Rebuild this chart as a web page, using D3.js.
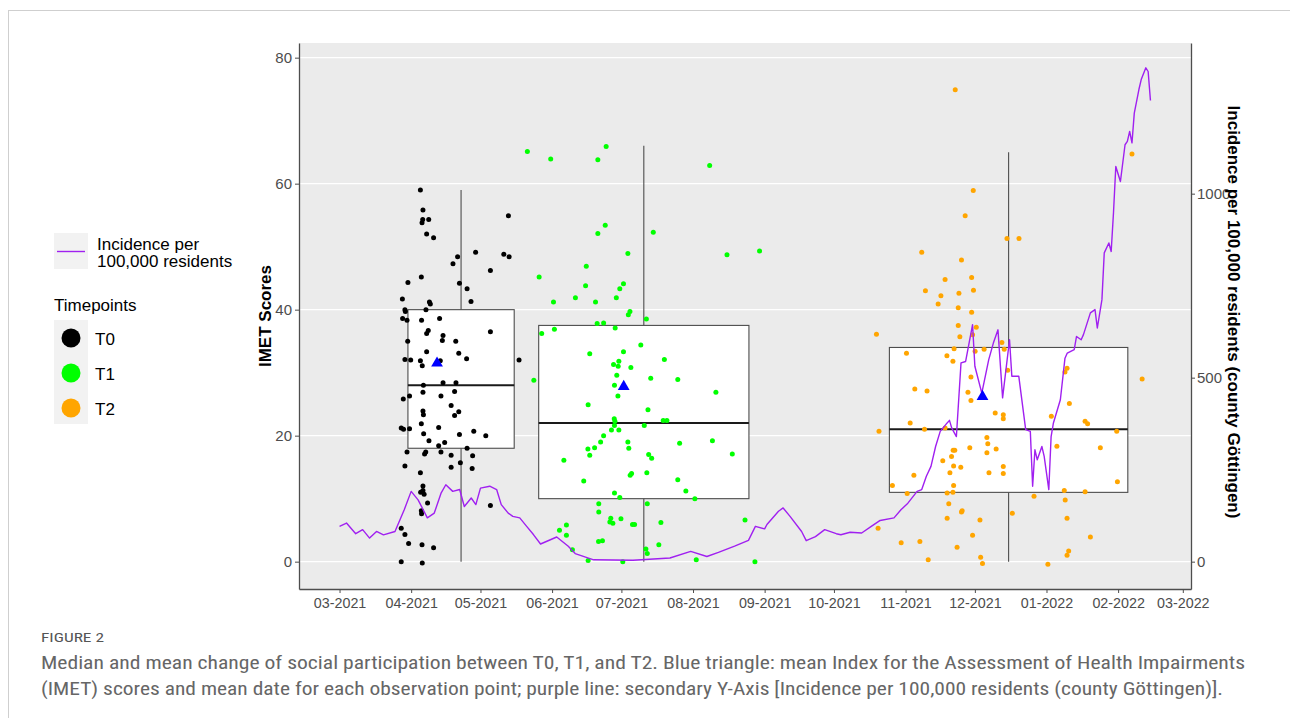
<!DOCTYPE html>
<html>
<head>
<meta charset="utf-8">
<script src="https://cdn.jsdelivr.net/npm/d3@7"></script>
<style>
  body { margin: 0; background: #fff; }
  svg { display: block; }
  .axis text { font-family: "Liberation Sans", Arial, sans-serif; fill: #4d4d4d; }
  .axis .domain, .axis line { stroke: #4d4d4d; }
</style>
</head>
<body>
<div id="chart"></div>
<script>
// day offsets below are counted from this date
const originDate = "2021-03-01";

const timepoints = ["T0", "T1", "T2"];
const timepointColors = ["#000000", "#00ff00", "#ffa500"];

// T0 observations
const t0Days = [35.0, 36.1, 36.0, 38.6, 35.7, 37.7, 40.7, 73.1, 58.9, 51.1, 49.1, 71.1, 73.4, 65.3, 35.4, 29.6, 51.9, 55.2, 56.9, 27.2,
  38.9, 39.3, 37.4, 28.3, 28.5, 27.3, 29.2, 35.5, 43.3, 65.3, 38.4, 37.7, 44.8, 44.5, 50.3, 29.5, 37.7, 51.6, 55.0, 28.3,
  30.8, 35.0, 35.8, 43.6, 77.7, 44.8, 50.4, 36.3, 49.8, 36.1, 30.3, 43.9, 27.6, 48.3, 51.6, 36.1, 36.3, 49.8, 35.4, 42.9,
  26.7, 27.7, 30.3, 58.1, 36.4, 51.9, 63.3, 38.7, 45.5, 42.9, 55.2, 29.2, 37.3, 36.8, 43.9, 48.3, 57.6, 52.3, 28.3, 48.3,
  57.4, 35.0, 36.1, 36.1, 35.1, 36.6, 38.1, 65.3, 35.4, 35.5, 26.7, 28.3, 29.9, 35.7, 40.7, 26.7, 35.8];
const t0Scores = [59.0, 55.8, 54.3, 54.3, 53.8, 52.0, 51.4, 54.9, 49.1, 48.4, 47.3, 48.8, 48.4, 46.2, 45.2, 44.3, 44.2, 43.3, 41.3, 41.7,
  41.2, 40.9, 40.0, 40.0, 39.7, 38.6, 38.3, 38.3, 38.6, 36.5, 36.7, 36.2, 35.9, 35.1, 35.0, 35.0, 33.3, 33.1, 32.2, 32.1,
  32.0, 31.9, 31.1, 31.9, 32.0, 28.4, 28.4, 28.0, 27.0, 26.9, 26.3, 26.3, 25.8, 24.8, 23.8, 23.9, 23.3, 23.2, 21.9, 21.3,
  21.2, 21.0, 21.1, 20.7, 20.3, 20.2, 20.0, 19.2, 18.9, 18.4, 18.0, 17.4, 17.4, 17.1, 17.4, 16.9, 16.8, 15.7, 15.2, 15.0,
  14.8, 14.1, 12.0, 11.3, 11.0, 10.7, 9.3, 8.9, 8.1, 7.6, 5.3, 4.3, 2.9, 2.7, 2.2, 0.0, -0.2];

// T1 observations
const t1Days = [81.3, 91.4, 111.8, 115.4, 160.2, 115.0, 111.8, 135.8, 124.8, 167.7, 181.8, 106.8, 86.4, 106.5, 122.9, 121.3, 102.1, 119.8, 92.6, 110.8,
  125.7, 125.0, 132.8, 111.5, 114.3, 119.3, 93.0, 87.5, 130.4, 108.3, 122.9, 140.6, 118.6, 120.9, 120.6, 126.1, 84.1, 120.0, 134.7, 146.4,
  119.0, 162.9, 120.5, 107.6, 133.5, 118.9, 119.2, 140.1, 141.7, 119.0, 131.9, 117.7, 120.9, 114.3, 113.0, 110.4, 107.5, 124.8, 125.2, 147.2,
  161.4, 108.3, 133.8, 135.1, 170.0, 97.1, 126.4, 125.8, 133.0, 105.7, 146.4, 149.9, 119.0, 121.3, 153.8, 112.2, 133.2, 112.2, 175.5, 117.4,
  117.0, 118.3, 121.8, 126.8, 127.7, 139.1, 98.2, 95.2, 98.2, 112.1, 113.8, 138.2, 100.8, 132.6, 133.2, 107.6, 122.6, 154.4, 179.8];
const t1Scores = [65.1, 63.9, 63.8, 65.9, 62.9, 53.4, 52.1, 52.3, 48.9, 48.7, 49.3, 46.9, 45.2, 43.8, 44.1, 43.3, 41.9, 41.9, 41.2, 41.2,
  39.7, 39.2, 38.5, 37.8, 37.9, 37.1, 36.9, 36.2, 34.4, 33.0, 33.3, 32.1, 31.3, 31.8, 31.0, 30.8, 28.8, 29.6, 29.1, 28.9,
  28.0, 26.9, 26.3, 24.9, 24.1, 22.7, 22.3, 22.4, 22.4, 21.6, 21.6, 20.9, 20.9, 20.0, 19.0, 18.1, 17.9, 19.0, 18.0, 18.8,
  19.2, 16.9, 17.0, 16.4, 17.1, 16.1, 14.0, 13.7, 14.1, 12.8, 13.0, 11.2, 10.9, 10.2, 10.0, 9.2, 9.2, 7.9, 6.6, 6.9,
  6.3, 6.1, 6.8, 5.9, 5.9, 6.2, 5.8, 5.0, 4.2, 3.2, 3.3, 2.7, 1.9, 2.0, 1.3, 0.2, 0.0, 0.3, 0.0];

// T2 observations
const t2Days = [266.5, 343.0, 274.3, 270.8, 288.9, 294.1, 252.0, 269.2, 262.1, 273.6, 253.6, 260.3, 268.1, 274.4, 259.1, 267.8, 273.6, 267.8, 232.4, 275.6,
  268.5, 274.0, 245.4, 266.0, 262.9, 265.5, 279.0, 287.7, 275.1, 286.7, 273.3, 289.2, 314.9, 314.0, 249.0, 254.3, 272.0, 273.3, 315.9, 347.4,
  283.8, 287.3, 287.3, 308.1, 247.0, 322.7, 323.8, 233.5, 253.2, 262.1, 336.4, 280.2, 280.6, 272.8, 280.2, 284.2, 310.5, 329.3, 265.6, 266.3,
  264.9, 261.1, 265.8, 268.9, 287.3, 287.3, 264.2, 281.1, 248.6, 239.3, 265.8, 336.7, 313.7, 322.7, 245.7, 263.0, 265.5, 300.6, 314.1, 263.7,
  269.5, 269.2, 291.2, 263.0, 277.2, 314.9, 233.1, 274.0, 325.0, 243.1, 251.2, 267.3, 315.6, 314.9, 254.8, 277.5, 278.3, 306.6];
const t2Scores = [74.9, 64.7, 58.9, 54.9, 51.3, 51.3, 49.1, 47.9, 44.8, 45.1, 43.0, 42.2, 42.6, 43.1, 40.9, 40.3, 39.6, 37.5, 36.1, 37.2,
  35.7, 36.0, 33.1, 33.8, 32.7, 31.8, 33.7, 33.7, 33.4, 34.8, 29.3, 30.4, 30.7, 30.1, 27.4, 27.1, 26.9, 25.6, 25.1, 29.0,
  23.6, 23.3, 22.7, 23.1, 22.0, 22.3, 21.9, 20.7, 21.0, 21.2, 20.7, 19.7, 18.7, 18.1, 17.3, 17.9, 18.3, 18.1, 17.7, 17.7,
  16.7, 16.0, 15.2, 15.0, 15.1, 14.0, 14.1, 14.1, 13.7, 12.1, 12.1, 12.7, 11.3, 11.1, 10.8, 10.9, 11.0, 10.4, 9.8, 9.2,
  8.1, 7.9, 7.7, 6.9, 6.6, 6.9, 5.3, 4.2, 3.9, 3.0, 3.2, 2.3, 1.7, 1.0, 0.3, 0.7, -0.3, -0.4];

// boxplot summaries per timepoint (box extent in days from origin)
const boxStartDays = [29.6, 86.2, 238.0];
const boxEndDays = [75.6, 177.2, 341.2];
const whiskerLow = [0, 0, 0];
const q1 = [18, 10, 11];
const medians = [28, 22, 21];
const q3 = [40, 37.5, 34];
const whiskerHigh = [59, 66, 65];
const meanDays = [42.2, 123.0, 278.3];
const meanScores = [31.5, 27.8, 26.2];

// 7-day incidence per 100,000 residents, county Göttingen
const incidenceDates = ["2021-03-01", "2021-03-04", "2021-03-08", "2021-03-11", "2021-03-14", "2021-03-17", "2021-03-20", "2021-03-25",
  "2021-03-29", "2021-04-01", "2021-04-04", "2021-04-08", "2021-04-11", "2021-04-14", "2021-04-16", "2021-04-19", "2021-04-22",
  "2021-04-24", "2021-04-27", "2021-04-29", "2021-05-01", "2021-05-05", "2021-05-08", "2021-05-10", "2021-05-13", "2021-05-15",
  "2021-05-18", "2021-05-21", "2021-05-24", "2021-05-27", "2021-06-03", "2021-06-08", "2021-06-11", "2021-06-19", "2021-07-06",
  "2021-07-22", "2021-07-31", "2021-08-07", "2021-08-12", "2021-08-19", "2021-08-25", "2021-08-28", "2021-09-01", "2021-09-02",
  "2021-09-07", "2021-09-09", "2021-09-12", "2021-09-17", "2021-09-19", "2021-09-23", "2021-09-27", "2021-10-02", "2021-10-04",
  "2021-10-08", "2021-10-13", "2021-10-17", "2021-10-21", "2021-10-27", "2021-10-30", "2021-11-02", "2021-11-06", "2021-11-08",
  "2021-11-10", "2021-11-12", "2021-11-14", "2021-11-16", "2021-11-19", "2021-11-20", "2021-11-21", "2021-11-23", "2021-11-25",
  "2021-11-27", "2021-11-30", "2021-12-01", "2021-12-04", "2021-12-07", "2021-12-09", "2021-12-11", "2021-12-13", "2021-12-16",
  "2021-12-17", "2021-12-20", "2021-12-23", "2021-12-25", "2021-12-26", "2021-12-27", "2021-12-28", "2021-12-30", "2021-12-31",
  "2022-01-02", "2022-01-03", "2022-01-04", "2022-01-07", "2022-01-09", "2022-01-10", "2022-01-13", "2022-01-14", "2022-01-16",
  "2022-01-17", "2022-01-20", "2022-01-22", "2022-01-23", "2022-01-25", "2022-01-26", "2022-01-28", "2022-01-29", "2022-01-30",
  "2022-01-31", "2022-02-02", "2022-02-04", "2022-02-05", "2022-02-06", "2022-02-07", "2022-02-08", "2022-02-10", "2022-02-11",
  "2022-02-13", "2022-02-14", "2022-02-15"];
const incidenceValues = [96, 105, 76, 87, 64, 82, 73, 82,
  141, 191, 168, 119, 132, 187, 209, 191, 196,
  150, 173, 155, 200, 205, 196, 155, 132, 123,
  119, 96, 73, 48, 67, 42, 22, 5, 4,
  10, 28, 14, 25, 42, 58, 96, 89, 101,
  137, 146, 123, 82, 57, 68, 87, 76, 73,
  80, 78, 95, 112, 119, 141, 159, 191, 196,
  232, 259, 313, 354, 377, 384, 363, 340, 540,
  544, 644, 531, 458, 549, 594, 630, 445, 603,
  504, 504, 359, 354, 205, 304, 277, 313, 286,
  196, 340, 377, 440, 553, 567, 576, 612, 603,
  617, 676, 685, 635, 712, 839, 866, 843, 948,
  1074, 1033, 1133, 1142, 1169, 1138, 1219, 1283, 1310,
  1342, 1332, 1253];

const xTickDates = ["2021-03-01", "2021-04-01", "2021-05-01", "2021-06-01", "2021-07-01", "2021-08-01", "2021-09-01",
  "2021-10-01", "2021-11-01", "2021-12-01", "2022-01-01", "2022-02-01", "2022-03-01"];
const yTicks = [0, 20, 40, 60, 80];
const incidenceTicks = [0, 500, 1000];

// secondary axis: incidence = score * secFactor
const secFactor = 17.12;

const W = 1290, H = 718;
const panel = { left: 299, right: 1191, top: 43, bottom: 589 };
const font = '"Liberation Sans", Arial, sans-serif';

const parseDate = d3.timeParse("%Y-%m-%d");
const origin = parseDate(originDate);
const dayToDate = d => new Date(origin.getTime() + d * 864e5);

const groups = [[t0Days, t0Scores], [t1Days, t1Scores], [t2Days, t2Scores]];
const points = [];
groups.forEach(function(g, gi) {
  g[0].forEach(function(d, i) {
    points.push({ date: dayToDate(d), score: g[1][i], tp: timepoints[gi] });
  });
});
const incidence = incidenceDates.map((d, i) => ({ date: parseDate(d), value: incidenceValues[i] }));
const boxes = timepoints.map((tp, i) => ({
  tp: tp,
  start: dayToDate(boxStartDays[i]),
  end: dayToDate(boxEndDays[i]),
  mid: dayToDate((boxStartDays[i] + boxEndDays[i]) / 2),
  lo: whiskerLow[i], q1: q1[i], med: medians[i], q3: q3[i], hi: whiskerHigh[i],
  meanDate: dayToDate(meanDays[i]), mean: meanScores[i]
}));

const color = d3.scaleOrdinal().domain(timepoints).range(timepointColors);

// scales with ggplot-like 5% expansion
const allDates = points.map(d => d.date).concat(incidence.map(d => d.date));
const dExt = d3.extent(allDates);
const dPad = (dExt[1] - dExt[0]) * 0.05;
const x = d3.scaleTime()
  .domain([new Date(+dExt[0] - dPad), new Date(+dExt[1] + dPad)])
  .range([panel.left, panel.right]);

const yLo = d3.min(points, d => d.score);
const yHi = d3.max(points.map(d => d.score).concat(incidenceValues.map(v => v / secFactor)));
const yPad = (yHi - yLo) * 0.05;
const y = d3.scaleLinear().domain([yLo - yPad, yHi + yPad]).range([panel.bottom, panel.top]);
const yRight = d3.scaleLinear().domain(y.domain().map(v => v * secFactor)).range([panel.bottom, panel.top]);

const svg = d3.select("#chart")
  .append("svg")
    .attr("width", W)
    .attr("height", H);

svg.append("rect").attr("width", W).attr("height", H).attr("fill", "#fff");

// figure frame
svg.append("line").attr("x1", 8).attr("x2", W).attr("y1", 10.5).attr("y2", 10.5)
  .attr("stroke", "#cfcfcf").attr("stroke-width", 1);
svg.append("line").attr("x1", 8.5).attr("x2", 8.5).attr("y1", 10).attr("y2", H)
  .attr("stroke", "#cfcfcf").attr("stroke-width", 1);

// panel
svg.append("rect")
  .attr("x", panel.left).attr("y", panel.top)
  .attr("width", panel.right - panel.left).attr("height", panel.bottom - panel.top)
  .attr("fill", "#ebebeb");

svg.append("g")
  .selectAll("line")
  .data(yTicks)
  .join("line")
    .attr("x1", panel.left).attr("x2", panel.right)
    .attr("y1", d => y(d)).attr("y2", d => y(d))
    .attr("stroke", "#fff").attr("stroke-width", 1.1);

// boxplots
const boxG = svg.append("g");
boxG.selectAll(".whisker")
  .data(boxes)
  .join("line")
    .attr("class", "whisker")
    .attr("x1", d => x(d.mid)).attr("x2", d => x(d.mid))
    .attr("y1", d => y(d.lo)).attr("y2", d => y(d.hi))
    .attr("stroke", "#4d4d4d").attr("stroke-width", 1.1);
boxG.selectAll(".box")
  .data(boxes)
  .join("rect")
    .attr("class", "box")
    .attr("x", d => x(d.start)).attr("width", d => x(d.end) - x(d.start))
    .attr("y", d => y(d.q3)).attr("height", d => y(d.q1) - y(d.q3))
    .attr("fill", "#fff").attr("stroke", "#4d4d4d").attr("stroke-width", 1.1);
boxG.selectAll(".median")
  .data(boxes)
  .join("line")
    .attr("class", "median")
    .attr("x1", d => x(d.start)).attr("x2", d => x(d.end))
    .attr("y1", d => y(d.med)).attr("y2", d => y(d.med))
    .attr("stroke", "#1a1a1a").attr("stroke-width", 2);

// jittered observations
svg.append("g")
  .selectAll("circle")
  .data(points)
  .join("circle")
    .attr("cx", d => x(d.date))
    .attr("cy", d => y(d.score))
    .attr("r", 2.5)
    .attr("fill", d => color(d.tp));

// incidence line on the secondary axis
svg.append("path")
  .datum(incidence)
  .attr("d", d3.line()
    .x(d => x(d.date))
    .y(d => yRight(d.value)))
  .attr("fill", "none")
  .attr("stroke", "#a020f0")
  .attr("stroke-width", 1.4)
  .attr("stroke-linejoin", "round");

// mean triangles
svg.append("g")
  .selectAll("path")
  .data(boxes)
  .join("path")
    .attr("d", d3.symbol(d3.symbolTriangle, 60))
    .attr("transform", d => `translate(${x(d.meanDate)},${y(d.mean)})`)
    .attr("fill", "#0000ff");

// axes
const xAxis = svg.append("g")
  .attr("class", "axis")
  .attr("transform", `translate(0,${panel.bottom})`)
  .call(d3.axisBottom(x)
    .tickValues(xTickDates.map(parseDate))
    .tickFormat(d3.timeFormat("%m-%Y"))
    .tickSize(4).tickSizeOuter(0).tickPadding(5));
xAxis.selectAll("text").style("font-size", "14.3px");

const yAxis = svg.append("g")
  .attr("class", "axis")
  .attr("transform", `translate(${panel.left},0)`)
  .call(d3.axisLeft(y).tickValues(yTicks).tickSize(4).tickSizeOuter(0).tickPadding(3));
yAxis.selectAll("text").style("font-size", "15px");

const yAxisR = svg.append("g")
  .attr("class", "axis")
  .attr("transform", `translate(${panel.right},0)`)
  .call(d3.axisRight(yRight).tickValues(incidenceTicks).tickFormat(d3.format("d"))
    .tickSize(4).tickSizeOuter(0).tickPadding(2));
yAxisR.selectAll("text").style("font-size", "15px");

svg.selectAll(".axis .domain").attr("stroke-width", 1.3);

// axis titles
svg.append("text")
  .attr("transform", `translate(271,${(panel.top + panel.bottom) / 2}) rotate(-90)`)
  .attr("text-anchor", "middle")
  .style("font-family", font).style("font-size", "17px").style("font-weight", "bold")
  .text("IMET Scores");

svg.append("text")
  .attr("transform", `translate(1228,${(panel.top + panel.bottom) / 2 - 4}) rotate(90)`)
  .attr("text-anchor", "middle")
  .style("font-family", font).style("font-size", "17px").style("font-weight", "bold")
  .text("Incidence per 100,000 residents (county Göttingen)");

// legend
const leg = svg.append("g").style("font-family", font).style("font-size", "17px");
leg.append("rect").attr("x", 54).attr("y", 233).attr("width", 34).attr("height", 36).attr("fill", "#f2f2f2");
leg.append("line").attr("x1", 57).attr("x2", 85).attr("y1", 251.5).attr("y2", 251.5)
  .attr("stroke", "#a020f0").attr("stroke-width", 1.4);
leg.append("text").attr("x", 97).attr("y", 250).text("Incidence per");
leg.append("text").attr("x", 97).attr("y", 267).text("100,000 residents");

leg.append("text").attr("x", 54).attr("y", 311).text("Timepoints");
leg.append("rect").attr("x", 54).attr("y", 320).attr("width", 34).attr("height", 104).attr("fill", "#f2f2f2");
const keys = leg.selectAll(".key")
  .data(timepoints)
  .join("g")
    .attr("class", "key")
    .attr("transform", (d, i) => `translate(71,${338 + i * 35})`);
keys.append("circle").attr("r", 9.5).attr("fill", d => color(d));
keys.append("text").attr("x", 24).attr("y", 6.5).text(d => d);

// caption
const cap = svg.append("g").style("font-family", '"Liberation Sans Narrow", "Roboto Condensed", "Liberation Sans", sans-serif');
cap.append("text").attr("x", 41).attr("y", 642)
  .attr("textLength", 63).attr("lengthAdjust", "spacingAndGlyphs")
  .style("font-size", "13px").attr("fill", "#555")
  .text("FIGURE 2");
cap.append("text").attr("x", 41).attr("y", 669)
  .attr("textLength", 1204).attr("lengthAdjust", "spacingAndGlyphs")
  .style("font-size", "17.5px").attr("fill", "#666")
  .text("Median and mean change of social participation between T0, T1, and T2. Blue triangle: mean Index for the Assessment of Health Impairments");
cap.append("text").attr("x", 41).attr("y", 695)
  .attr("textLength", 1182).attr("lengthAdjust", "spacingAndGlyphs")
  .style("font-size", "17.5px").attr("fill", "#666")
  .text("(IMET) scores and mean date for each observation point; purple line: secondary Y-Axis [Incidence per 100,000 residents (county Göttingen)].");
</script>
</body>
</html>
